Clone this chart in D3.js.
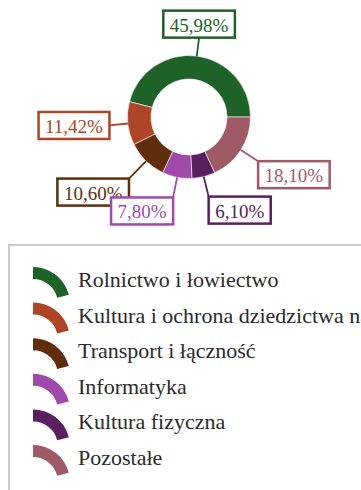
<!DOCTYPE html>
<html>
<head>
<meta charset="utf-8">
<script src="https://cdn.jsdelivr.net/npm/d3@7/dist/d3.min.js"></script>
<style>
  html, body { margin: 0; padding: 0; background: #fff; overflow: hidden; }
  svg { display: block; }
  text { font-family: "Liberation Serif", "Times New Roman", serif; }
</style>
</head>
<body>
<div id="chart"></div>
<script>
// Udział poszczególnych działów w wydatkach (%)
const categories = [
  "Rolnictwo i łowiectwo",
  "Kultura i ochrona dziedzictwa narodowego",
  "Transport i łączność",
  "Informatyka",
  "Kultura fizyczna",
  "Pozostałe"
];
const shares = [45.98, 11.42, 10.60, 7.80, 6.10, 18.10];
const colors = ["#1e6129", "#ad4526", "#612e0c", "#a149ab", "#5a1f5e", "#a05a65"];

// Placement of the value boxes: distance of the connector end from the centre,
// and which point of the box sits on that end (fraction of width, height).
const labelDistance = [80, 80, 86, 82, 82, 82];
const labelAnchor = [[0.5, 1], [1, 0.5], [1, 0], [1, 0], [0, 0], [0, 0]];

const W = 361, H = 490;
const cx = 189, cy = 117, outerR = 61.5, innerR = 38;

const pl = d3.formatLocale({ decimal: ",", thousands: " ", grouping: [3], currency: ["", " zł"] });
const fmt = v => pl.format(".2f")(v) + "%";

const svg = d3.select("#chart").append("svg")
  .attr("width", W).attr("height", H);

const pie = d3.pie().sort(null).value(d => d)
  .startAngle(Math.PI / 2).endAngle(Math.PI / 2 - 2 * Math.PI);
const arcs = pie(shares);
const arc = d3.arc().innerRadius(innerR).outerRadius(outerR);

const g = svg.append("g").attr("transform", `translate(${cx},${cy})`);

g.selectAll("path.slice").data(arcs).join("path")
  .attr("class", "slice")
  .attr("d", arc)
  .attr("fill", (d, i) => colors[i])
  .attr("stroke", "rgba(255,255,255,0.6)")
  .attr("stroke-width", 1);

const polar = (a, r) => [r * Math.sin(a), -r * Math.cos(a)];

// connectors and value boxes
const labels = g.selectAll("g.lbl").data(arcs).join("g").attr("class", "lbl");

labels.each(function (d, i) {
  const sel = d3.select(this);
  const mid = (d.startAngle + d.endAngle) / 2;
  const p0 = polar(mid, outerR);
  const p1 = polar(mid, labelDistance[i]);
  sel.append("line")
    .attr("x1", p0[0]).attr("y1", p0[1])
    .attr("x2", p1[0]).attr("y2", p1[1])
    .attr("stroke", colors[i]).attr("stroke-width", 1.8);

  const box = sel.append("g");
  const rect = box.append("rect")
    .attr("fill", "#fff")
    .attr("stroke", colors[i])
    .attr("stroke-width", 2.5);
  const txt = box.append("text")
    .style("font-size", "19px")
    .attr("fill", colors[i])
    .attr("text-anchor", "middle")
    .attr("dominant-baseline", "central")
    .text(fmt(d.data));
  const tw = txt.node().getComputedTextLength();
  const bw = tw + 13, bh = 27;
  const bx = p1[0] - labelAnchor[i][0] * bw;
  const by = p1[1] - labelAnchor[i][1] * bh;
  rect.attr("x", bx).attr("y", by).attr("width", bw).attr("height", bh);
  txt.attr("x", bx + bw / 2).attr("y", by + bh / 2 + 1);
});

// legend
const legendTop = 245, legendLeft = 9;
svg.append("rect")
  .attr("x", legendLeft).attr("y", legendTop)
  .attr("width", W + 20).attr("height", H)
  .attr("fill", "none").attr("stroke", "#cccccc").attr("stroke-width", 2);

const rowY = d3.scalePoint().domain(categories).range([287, 465]);
const iconArc = d3.arc().innerRadius(25).outerRadius(37)
  .startAngle(0).endAngle(1.32);

const items = svg.selectAll("g.item").data(categories).join("g")
  .attr("class", "item")
  .attr("transform", d => `translate(0,${rowY(d)})`);

items.append("path")
  .attr("d", iconArc)
  .attr("transform", "translate(33,17)")
  .attr("fill", (d, i) => colors[i]);

items.append("text")
  .attr("x", 78).attr("y", 0)
  .style("font-size", "22px")
  .attr("fill", "#2a2a2a")
  .text(d => d);
</script>
</body>
</html>
